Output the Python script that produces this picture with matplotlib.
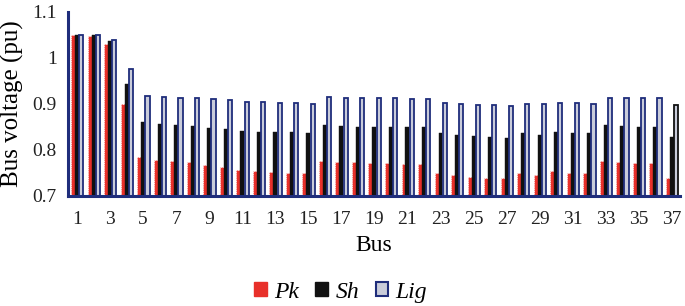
import matplotlib
matplotlib.use("Agg")
import matplotlib.pyplot as plt
import numpy as np
from matplotlib.patches import Patch

buses = list(range(1, 38))
pk = [1.050, 1.048, 1.030, 0.900, 0.784, 0.779, 0.775, 0.773, 0.767, 0.762,
      0.756, 0.755, 0.752, 0.751, 0.750, 0.776, 0.774, 0.773, 0.771, 0.771,
      0.769, 0.769, 0.751, 0.745, 0.741, 0.740, 0.739, 0.750, 0.746, 0.754,
      0.751, 0.749, 0.775, 0.774, 0.771, 0.771, 0.740]
sh = [1.050, 1.049, 1.036, 0.943, 0.861, 0.856, 0.854, 0.852, 0.848, 0.845,
      0.841, 0.839, 0.838, 0.838, 0.836, 0.855, 0.853, 0.851, 0.851, 0.850,
      0.850, 0.849, 0.837, 0.833, 0.830, 0.828, 0.827, 0.836, 0.833, 0.838,
      0.837, 0.836, 0.854, 0.852, 0.851, 0.851, 0.828]
lig = [1.050, 1.049, 1.040, 0.976, 0.918, 0.915, 0.914, 0.913, 0.910, 0.908,
       0.905, 0.904, 0.903, 0.902, 0.901, 0.915, 0.914, 0.914, 0.912, 0.912,
       0.911, 0.911, 0.902, 0.899, 0.897, 0.897, 0.896, 0.901, 0.900, 0.903,
       0.902, 0.901, 0.914, 0.914, 0.913, 0.912, 0.897]
yticks = [0.7, 0.8, 0.9, 1.0, 1.1]
ytick_labels = ["0.7", "0.8", "0.9", "1", "1.1"]
xticks = list(range(1, 38, 2))

RED = "#E8302A"
NAVY = "#1F2D7B"
LIGFILL = "#C9CCDA"

plt.rcParams['font.family'] = ['Liberation Serif', 'DejaVu Serif']

fig = plt.figure(figsize=(6.85, 3.06), dpi=100)
ax = fig.add_axes([0.0993, 0.3595, 0.8934, 0.6015])

x = np.array(buses, dtype=float)
w = 0.24
ax.bar(x - w, pk, width=w, bottom=0, color=RED, edgecolor="white",
       linewidth=0.6, linestyle=":", zorder=2)
ax.bar(x, sh, width=w, color="#111111", edgecolor="#111111", linewidth=0.3, zorder=2)
edgecols = [NAVY] * (len(buses) - 1) + ["#111111"]
ax.bar(x + w + 0.02, lig, width=0.25, color=LIGFILL, edgecolor=edgecols,
       linewidth=1.3, zorder=2)

ax.set_ylim(0.7, 1.1)
ax.set_xlim(0.45, 37.5)
ax.set_yticks(yticks)
ax.set_yticklabels(ytick_labels)
ax.set_xticks(xticks)
ax.set_xticklabels([str(b) for b in xticks])
ax.tick_params(axis='both', length=0, labelsize=14, colors="#222222")
ax.tick_params(axis='x', pad=11)
ax.tick_params(axis='y', pad=8)

for s in ["top", "right"]:
    ax.spines[s].set_visible(False)
for s in ["left", "bottom"]:
    ax.spines[s].set_color(NAVY)
    ax.spines[s].set_linewidth(2.2)

ax.set_ylabel("Bus voltage (pu)", fontsize=18, labelpad=6)
ax.set_xlabel("Bus", fontsize=17, labelpad=5)

handles = [Patch(facecolor=RED, edgecolor=RED),
           Patch(facecolor="#111111", edgecolor="#111111"),
           Patch(facecolor=LIGFILL, edgecolor=NAVY, linewidth=1.5)]
leg = fig.legend(handles, ["Pk", "Sh", "Lig"], loc="center", ncol=3,
                 bbox_to_anchor=(0.497, 0.045), frameon=False,
                 prop={'style': 'italic', 'size': 17},
                 handlelength=0.55, handleheight=0.55, handletextpad=0.3,
                 columnspacing=0.7)

fig.savefig("out.png", dpi=100)
